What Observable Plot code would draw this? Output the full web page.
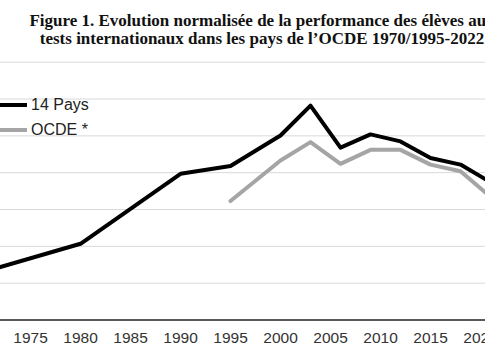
<!DOCTYPE html>
<html>
<head>
<meta charset="utf-8">
<script src="https://cdn.jsdelivr.net/npm/d3@7"></script>
<script src="https://cdn.jsdelivr.net/npm/@observablehq/plot@0.6"></script>
<style>
  html, body { margin: 0; padding: 0; background: #fff; overflow: hidden; width: 485px; height: 360px; }
  #wrap { position: relative; width: 485px; height: 360px; overflow: hidden; }
  #title { position: absolute; left: 0; top: 12px; width: 524px; text-align: center;
    font-family: "Liberation Serif", "Times New Roman", serif; font-weight: bold; font-size: 17px;
    line-height: 17.5px; color: #111; white-space: nowrap; }
  #chart { position: absolute; left: 0; top: 55px; }
  #legend { position: absolute; left: 0; top: 92px; font-family: "Liberation Sans", Arial, sans-serif;
    font-size: 16px; color: #222; }
  .item { display: flex; align-items: center; height: 25px; }
  .sw { display: inline-block; width: 27px; height: 0; margin-right: 4px; }
</style>
</head>
<body>
<div id="wrap">
  <div id="title">Figure 1. Evolution normalisée de la performance des élèves aux<br>tests internationaux dans les pays de l’OCDE 1970/1995-2022</div>
  <div id="chart"></div>
  <div id="legend"></div>
</div>
<script>
// Data (y in gridline units, value 0 = horizontal axis)
const years14 = [1970, 1980, 1990, 1995, 2000, 2003, 2006, 2009, 2012, 2015, 2018, 2022];
const values14 = [1.28, 2.07, 3.97, 4.18, 5.01, 5.82, 4.68, 5.04, 4.85, 4.40, 4.22, 3.58];
const yearsOCDE = [1995, 2000, 2003, 2006, 2009, 2012, 2015, 2018, 2022];
const valuesOCDE = [3.23, 4.33, 4.83, 4.24, 4.62, 4.62, 4.22, 4.04, 3.11];
const tickYears = [1975, 1980, 1985, 1990, 1995, 2000, 2005, 2010, 2015, 2020];
const gridValues = [1, 2, 3, 4, 5, 6, 7];
const seriesNames = ["14 Pays", "OCDE *"];
const seriesColors = ["#000000", "#a5a5a5"];

const d14 = years14.map((y, i) => ({year: y, value: values14[i]}));
const dOC = yearsOCDE.map((y, i) => ({year: y, value: valuesOCDE[i]}));

const chart = Plot.plot({
  width: 485,
  height: 305,
  marginLeft: 0,
  marginRight: 0,
  marginTop: 6.7,
  marginBottom: 40.5,
  style: {background: "transparent", fontFamily: "Liberation Sans, Arial, sans-serif", overflow: "hidden"},
  x: {domain: [1972, 2020.5], axis: null, label: null},
  y: {domain: [0, 7], axis: null, label: null},
  marks: [
    Plot.ruleY(gridValues, {stroke: "#d9d9d9", strokeWidth: 1}),
    Plot.line(dOC, {x: "year", y: "value", stroke: seriesColors[1], strokeWidth: 4, clip: true}),
    Plot.line(d14, {x: "year", y: "value", stroke: seriesColors[0], strokeWidth: 4, clip: true}),
    Plot.ruleY([0], {stroke: "#222", strokeWidth: 1.5}),
    Plot.axisX({ticks: tickYears, tickFormat: d => String(d), tickSize: 0, tickPadding: 12,
      fontSize: 15.5, fill: "#333", label: null})
  ]
});
document.getElementById("chart").appendChild(chart);

const legend = document.getElementById("legend");
seriesNames.forEach((name, i) => {
  const item = document.createElement("div");
  item.className = "item";
  const sw = document.createElement("span");
  sw.className = "sw";
  sw.style.borderTop = `4px solid ${seriesColors[i]}`;
  item.appendChild(sw);
  item.appendChild(document.createTextNode(name));
  legend.appendChild(item);
});
</script>
</body>
</html>
